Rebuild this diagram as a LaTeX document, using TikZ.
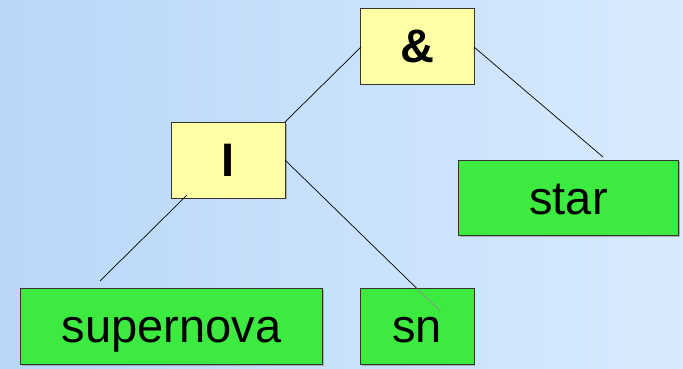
\documentclass[tikz,border=0pt]{standalone}
\usepackage{fontspec}
\setmainfont{Liberation Sans}
\usetikzlibrary{shadows}
\definecolor{bgleft}{HTML}{B9D7F9}
\definecolor{bgright}{HTML}{D8EAFD}
\definecolor{opyellow}{HTML}{FFFFA6}
\definecolor{termgreen}{HTML}{3DEA40}
\begin{document}
\begin{tikzpicture}[x=1pt,y=1pt,
  box/.style={draw=black!80, line width=0.9pt, inner sep=0pt,
    text height=40pt, text depth=7pt,
    drop shadow={shadow xshift=1.3pt, shadow yshift=-1.3pt, fill=black!50, opacity=0.55}},
  opbox/.style={box, fill=opyellow, font=\fontsize{47}{47}\selectfont\bfseries},
  termbox/.style={box, fill=termgreen, font=\fontsize{47}{47}\selectfont},
  link/.style={draw=black, line width=0.7pt},
  faintlink/.style={draw=black!45, line width=0.7pt}]
% background
\fill[left color=bgleft, right color=bgright] (0,0) rectangle (683,368);
\useasboundingbox (0,0) rectangle (683,368);

% operator boxes
\node[opbox, minimum width=113.3pt, minimum height=75.7pt] (and) at (417.3,321.8) {\&};
\node[opbox, minimum width=114pt, minimum height=75.7pt] (or) at (228.3,207.8) {I};

% term boxes
\node[termbox, minimum width=219.6pt, minimum height=75.7pt] (star) at (568.5,170.1) {star};
\node[termbox, minimum width=302.4pt, minimum height=76pt] (supernova) at (171.5,41.7) {supernova};
\node[termbox, minimum width=113.3pt, minimum height=76pt] (sn) at (417.3,41.7) {sn};

% connector end points
\coordinate (andL) at (361,321);
\coordinate (orTR) at (285,246);
\coordinate (andR) at (474,321);
\coordinate (starEnd) at (603,211);
\coordinate (orBL) at (187,173);
\coordinate (supEnd) at (100,87);
\coordinate (orR) at (285,208);
\coordinate (snTop) at (416.7,79.7);
\coordinate (snEnd) at (440,57);

% connectors
\draw[link] (andL) -- (orTR);
\draw[link] (andR) -- (starEnd);
\draw[link] (orBL) -- (supEnd);
\draw[link] (orR) -- (snTop);
\draw[faintlink] (snTop) -- (snEnd);
\end{tikzpicture}
\end{document}
